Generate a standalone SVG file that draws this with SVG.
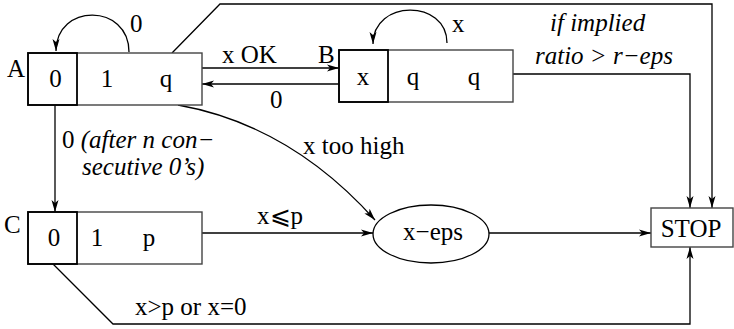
<svg xmlns="http://www.w3.org/2000/svg" width="734" height="329" viewBox="0 0 734 329">
<style>
text{font-family:"Liberation Serif","Times New Roman",serif;font-size:25px;fill:#000}
.it{font-style:italic}
.mid{text-anchor:middle}
.box{fill:#fff;stroke:#444;stroke-width:1.4}
.cell{fill:none;stroke:#000;stroke-width:1.8}
.edge{fill:none;stroke:#000;stroke-width:1.3}
</style>
<defs>
<marker id="ah" viewBox="0 0 12 8" refX="12" refY="4" markerWidth="12" markerHeight="8" markerUnits="userSpaceOnUse" orient="auto">
<path d="M0,0.5 L12,4 L0,7.5 L3,4 z" fill="#000"/>
</marker>
</defs>
<g id="connectors">
<path class="edge" d="M129,52 C129,3 56,3 56,51" marker-end="url(#ah)"/>
<path class="edge" d="M447,43 C447,-1 373,-1 373,44" marker-end="url(#ah)"/>
<path class="edge" d="M202,68 L339,68" marker-end="url(#ah)"/>
<path class="edge" d="M339,84 L202,84" marker-end="url(#ah)"/>
<path class="edge" d="M55,105 L55,212" marker-end="url(#ah)"/>
<path class="edge" d="M178,105 Q290,125 375,220" marker-end="url(#ah)"/>
<path class="edge" d="M202,233 L373,233" marker-end="url(#ah)"/>
<path class="edge" d="M489,233 L651,233" marker-end="url(#ah)"/>
<path class="edge" d="M172,53 L220,4 L712,4 L712,208" marker-end="url(#ah)"/>
<path class="edge" d="M513,74 L690,74 L690,208" marker-end="url(#ah)"/>
<path class="edge" d="M53,264 L113,324 L690,324 L690,247" marker-end="url(#ah)"/>
<text x="130" y="32">0</text>
<text x="452" y="32">x</text>
<text x="222" y="63">x OK</text>
<text x="270" y="108">0</text>
<text x="62" y="148">0 <tspan class="it">(after n con−</tspan></text>
<text class="it" x="82" y="175">secutive 0’s)</text>
<text x="303" y="154">x too high</text>
<text x="257" y="224">x⩽p</text>
<text class="it" x="550" y="31">if implied</text>
<text class="it" x="535" y="64">ratio &gt; r−eps</text>
<text x="135" y="315">x&gt;p or x=0</text>
</g>
<g id="A">
<rect class="box" x="28" y="53" width="174" height="52"/>
<rect class="cell" x="28" y="53" width="49" height="52"/>
<text x="7" y="77">A</text>
<text class="mid" x="55.5" y="87">0</text>
<text class="mid" x="107" y="87">1</text>
<text class="mid" x="166" y="87">q</text>
</g>
<g id="B">
<rect class="box" x="339" y="50" width="174" height="52"/>
<rect class="cell" x="339" y="50" width="49" height="52"/>
<text x="318" y="63">B</text>
<text class="mid" x="363" y="85">x</text>
<text class="mid" x="413" y="85">q</text>
<text class="mid" x="474" y="85">q</text>
</g>
<g id="C">
<rect class="box" x="28" y="212" width="174" height="52"/>
<rect class="cell" x="28" y="212" width="49" height="52"/>
<text x="4" y="233">C</text>
<text class="mid" x="54" y="246">0</text>
<text class="mid" x="97" y="246">1</text>
<text class="mid" x="149" y="246">p</text>
</g>
<g id="xeps">
<ellipse cx="431" cy="234" rx="58" ry="29" fill="#fff" stroke="#000" stroke-width="1.3"/>
<text class="mid" x="433" y="240">x−eps</text>
</g>
<g id="STOP">
<rect class="box" x="651" y="208" width="82" height="39"/>
<text class="mid" x="691" y="237">STOP</text>
</g>
</svg>
